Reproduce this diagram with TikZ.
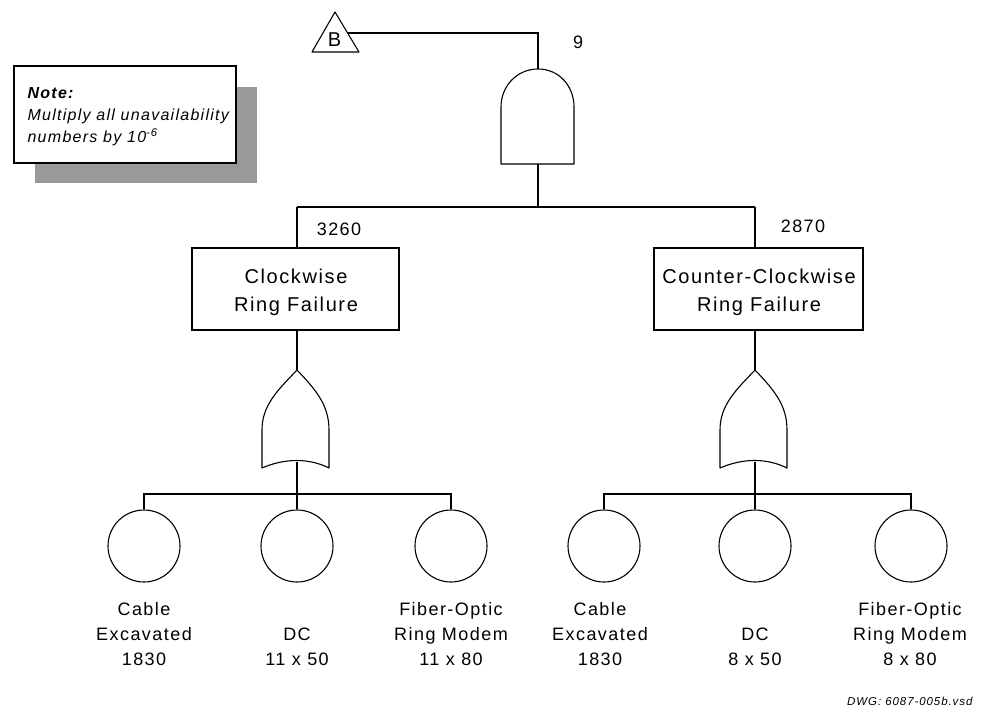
\documentclass[tikz,border=0pt]{standalone}
\usepackage{fontspec}
\setmainfont{Liberation Sans}[LetterSpace=8]
\begin{document}
\begin{tikzpicture}[x=1pt,y=-1pt,line width=1.1pt,
  boxtext/.style={font=\fontsize{20}{28}\selectfont,align=center,inner sep=0pt},
  eventbox/.style={draw,rectangle,minimum height=82pt,inner sep=0pt},
  basic/.style={draw,circle,minimum size=72pt,inner sep=0pt},
  lbl/.style={font=\fontsize{18}{25}\selectfont,align=center,inner sep=0pt,anchor=north},
  num/.style={font=\fontsize{18}{22}\selectfont,inner sep=0pt,anchor=base},
  gate/.style={draw,line width=1.1pt,line join=round}]
\path[use as bounding box] (0,0) rectangle (981,719);

% Note box with shadow
\fill[black!40] (35,87) rectangle (257,183);
\draw[fill=white,line width=1.3pt] (14,66) rectangle (236,163);
\node[anchor=north west,inner sep=0pt,align=left,font=\fontsize{16}{22}\selectfont\itshape] (note) at (27,87)
  {\textbf{Note:}\\Multiply all unavailability\\numbers by 10\textsuperscript{-6}};

% transfer triangle B
\draw[gate] (335,12) -- (359,52) -- (312,52) -- cycle;
\node[num,font=\fontsize{20}{22}\selectfont] (B) at (334.5,47) {B};
\coordinate (Bout) at (347.6,33);

% AND gate
\coordinate (andtop) at (538,69);
\coordinate (andbot) at (538,164);
\draw[gate] (501,164) -- (501,107) .. controls (501,86) and (517,69) .. (andtop)
  .. controls (559,69) and (574,86) .. (574,107) -- (574,164) -- cycle;
\node[num] (n9) at (578,49) {9};

\draw (Bout) -| (andtop);
\coordinate (split) at (538,207);
\coordinate (lsplit) at (297,207);
\coordinate (rsplit) at (755,207);
\draw (andbot) -- (split);
\draw (lsplit) -- (rsplit);

% intermediate events
\node[eventbox,minimum width=207pt] (cw) at (295.5,289) {};
\node[boxtext] (cwt) at (296,292) {Clockwise\\Ring Failure};
\node[eventbox,minimum width=209pt] (ccw) at (758.5,289) {};
\node[boxtext] (ccwt) at (759,292) {Counter-Clockwise\\Ring Failure};
\node[num] (n3260) at (339,236) {3260};
\node[num] (n2870) at (803,233) {2870};
\draw (lsplit) -- (lsplit |- cw.north);
\draw (rsplit) -- (rsplit |- ccw.north);

% OR gates
\foreach \cx/\nm in {297/orl,755/orr}{
  \coordinate (\nm top) at (\cx,370);
  \coordinate (\nm bot) at (\cx,462);
  \draw[gate] (\cx,370) .. controls (\cx-19,390) and (\cx-35,405) .. (\cx-35,430)
    -- (\cx-35,468) .. controls (\cx-12,458) and (\cx+12,458) .. (\cx+32,468)
    -- (\cx+32,430) .. controls (\cx+32,405) and (\cx+19,390) .. (\cx,370);
}
\draw (cw.south -| orltop) -- (orltop);
\draw (ccw.south -| orrtop) -- (orrtop);

% basic events
\node[basic] (c1) at (144,546) {};
\node[basic] (c2) at (297,546) {};
\node[basic] (c3) at (451,546) {};
\node[basic] (c4) at (604,546) {};
\node[basic] (c5) at (755,546) {};
\node[basic] (c6) at (911,546) {};

\coordinate (lbar) at (297,494);
\coordinate (rbar) at (755,494);
\draw (orlbot) -- (lbar);
\draw (orrbot) -- (rbar);
\draw (c1.north) |- (lbar) -| (c3.north);
\draw (lbar) -- (c2.north);
\draw (c4.north) |- (rbar) -| (c6.north);
\draw (rbar) -- (c5.north);

\node[lbl] (l1) at (144,602) {Cable\\Excavated\\1830};
\node[lbl] (l2) at (297,627) {DC\\11 x 50};
\node[lbl] (l3) at (451,602) {Fiber-Optic\\Ring Modem\\11 x 80};
\node[lbl] (l4) at (600,602) {Cable\\Excavated\\1830};
\node[lbl] (l5) at (755,627) {DC\\8 x 50};
\node[lbl] (l6) at (910,602) {Fiber-Optic\\Ring Modem\\8 x 80};

\node[anchor=base east,inner sep=0pt,font=\fontsize{11.5}{14}\selectfont\itshape] (dwg) at (973,705) {DWG: 6087-005b.vsd};
\end{tikzpicture}
\end{document}
